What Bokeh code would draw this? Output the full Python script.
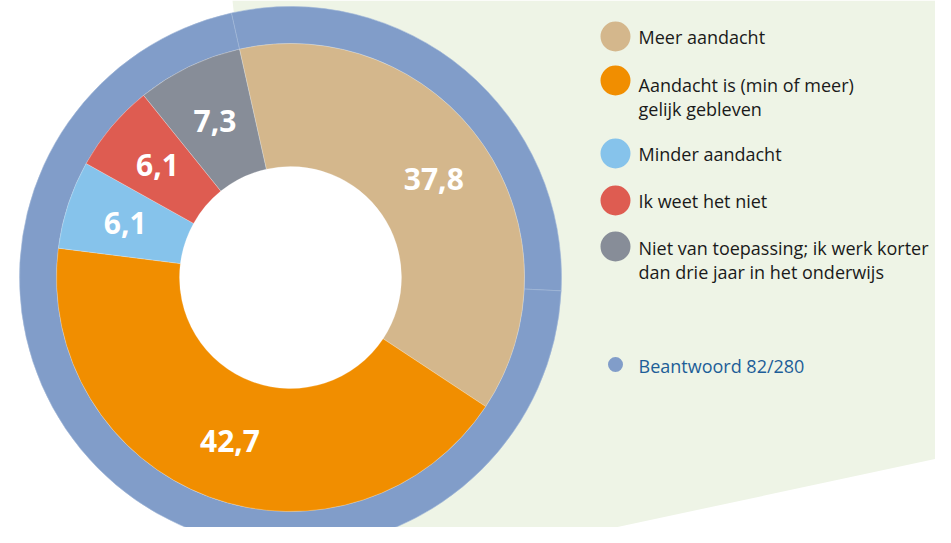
import math
from bokeh.plotting import figure
from bokeh.models import Range1d
from bokeh.core.properties import value
from bokeh.embed import file_html
from bokeh.resources import INLINE

# ---- data ----
categories = ["Meer aandacht",
              "Aandacht is (min of meer)\ngelijk gebleven",
              "Minder aandacht",
              "Ik weet het niet",
              "Niet van toepassing; ik werk korter\ndan drie jaar in het onderwijs"]
percentages = [37.8, 42.7, 6.1, 6.1, 7.3]
labels = ["37,8", "42,7", "6,1", "6,1", "7,3"]
colors = ["#D4B78C", "#F18E00", "#86C3EB", "#DE5C51", "#878D98"]
answered = 82
total = 280
answered_label = "Beantwoord 82/280"
ring_color = "#819DC9"

# ---- layout (screen-like coordinates, y measured from top) ----
H = 543
FW, FH = 935, 527
p = figure(width=FW, height=FH, output_backend="svg",
           toolbar_location=None, x_range=Range1d(0, FW), y_range=Range1d(H - FH, H),
           min_border=0, background_fill_color="white", border_fill_color="white")
p.axis.visible = False
p.grid.visible = False
p.outline_line_color = None

def Y(y):
    return H - y

# background green polygon
p.patch([232, 951, 951, 540, 290], [Y(0), Y(0), Y(455), Y(543), Y(543)],
        fill_color="#EEF4E6", line_color=None)

cx, cy = 290, Y(277)
r_hole, r_in, r_out = 111, 234, 271
start = -12.6  # degrees clockwise from top

def to_math(theta_clock):
    return math.radians(90 - theta_clock)

# outer ring: answered / not answered
ring_vals = [answered, total - answered]
acc = start
for v in ring_vals:
    th0 = acc
    th1 = acc + 360.0 * v / total
    p.annular_wedge(x=cx, y=cy, inner_radius=r_in, outer_radius=r_out,
                    start_angle=to_math(th0), end_angle=to_math(th1), direction="clock",
                    fill_color=ring_color, line_color="#A3B8D9", line_width=0.6)
    acc = th1

# white hole
p.scatter(x=[cx], y=[cy], size=2 * r_hole + 2, marker="circle",
          fill_color="white", line_color=None)

# inner donut
tot = sum(percentages)
acc = start
lx, ly = [], []
for v, c in zip(percentages, colors):
    th0 = acc
    th1 = acc + 360.0 * v / tot
    p.annular_wedge(x=cx, y=cy, inner_radius=r_hole, outer_radius=r_in,
                    start_angle=to_math(th0), end_angle=to_math(th1), direction="clock",
                    fill_color=c, line_color="white", line_width=0.4, line_alpha=0.6)
    mid = math.radians((th0 + th1) / 2)
    rl = 174
    lx.append(cx + rl * math.sin(mid))
    ly.append(cy + rl * math.cos(mid))
    acc = th1

p.text(x=lx, y=ly, text=labels, text_color="white", text_font=value("Open Sans"),
       text_font_style="bold", text_font_size="30px", text_align="center",
       text_baseline="middle")

# legend
leg_y = [36, 80, 153, 200, 246]
text_y = [36, 84, 153, 200, 247]
line_gap = 24
p.scatter(x=[615] * len(colors), y=[Y(v) for v in leg_y], size=30, marker="circle",
          fill_color=colors, line_color=None)
tx, ty, tt = [], [], []
for cat, y0 in zip(categories, text_y):
    for i, line in enumerate(cat.split("\n")):
        tx.append(638)
        ty.append(Y(y0 + i * line_gap))
        tt.append(line)
p.text(x=tx, y=ty, text=tt,
       text_color="#1A1A1A", text_font=value("Open Sans"), text_font_size="18px",
       text_align="left", text_baseline="middle")

p.scatter(x=[615], y=[Y(364)], size=15, marker="circle", fill_color=ring_color, line_color=None)
p.text(x=[638], y=[Y(365)], text=[answered_label], text_color="#1D5E98",
       text_font=value("Open Sans"), text_font_size="18px", text_align="left",
       text_baseline="middle")

open("out.html", "w").write(file_html(p, INLINE))
